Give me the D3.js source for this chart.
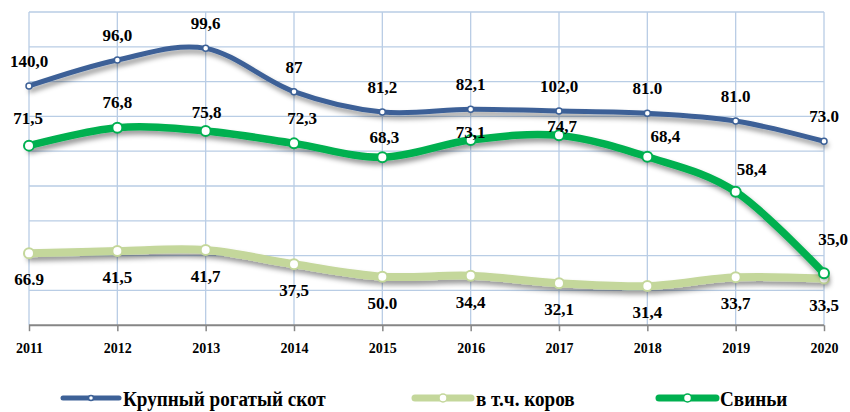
<!DOCTYPE html>
<html>
<head>
<meta charset="utf-8">
<script src="https://cdn.jsdelivr.net/npm/d3@7"></script>
<style>
  html, body { margin: 0; padding: 0; background: #fff; }
  svg { display: block; }
</style>
</head>
<body>
<svg id="chart" width="850" height="412"></svg>
<script>
// ---- Data ----
const years = ["2011","2012","2013","2014","2015","2016","2017","2018","2019","2020"];
// plotted positions
const cattle = [137.5, 152.4, 159.1, 134.2, 122.5, 124.1, 123.1, 121.8, 117.4, 105.7];
const pigs   = [103.2, 113.5, 111.6, 104.5, 96.5, 106.4, 109.1, 96.8, 76.7, 29.8];
const cows   = [41.3, 42.6, 43.2, 35.0, 27.9, 28.4, 24.1, 22.5, 27.5, 26.8];
// data labels as printed
const cattleLabels = ["140,0","96,0","99,6","87","81,2","82,1","102,0","81.0","81.0","73.0"];
const pigsLabels   = ["71,5","76,8","75,8","72,3","68,3","73,1","74,7","68,4","58,4","35,0"];
const cowsLabels   = ["66.9","41,5","41,7","37,5","50.0","34,4","32,1","31,4","33,7","33,5"];
const seriesNames  = ["Крупный рогатый скот","в т.ч. коров","Свиньи"];
const gridTicks = [0,20,40,60,80,100,120,140,160,180];

// ---- Layout ----
const svg = d3.select("#chart");
const x = d3.scalePoint().domain(years).range([29, 824]);
const y = d3.scaleLinear().domain([0, 180]).range([325.2, 12]);
const serif = "'Liberation Serif','Times New Roman',serif";

const defs = svg.append("defs");
const f = defs.append("filter").attr("id","shadow")
  .attr("x","-10%").attr("y","-30%").attr("width","120%").attr("height","180%");
f.append("feDropShadow").attr("dx",2).attr("dy",4).attr("stdDeviation",2.5)
  .attr("flood-color","#000").attr("flood-opacity",0.4);

// gridlines
const grid = svg.append("g");
grid.selectAll("line.h").data(gridTicks.slice(1)).join("line")
  .attr("x1", x.range()[0]).attr("x2", x.range()[1])
  .attr("y1", d => y(d)).attr("y2", d => y(d))
  .attr("stroke", "#B9CDE5").attr("stroke-width", 1.3);
grid.selectAll("line.v").data(years).join("line")
  .attr("x1", d => x(d)).attr("x2", d => x(d))
  .attr("y1", y(180)).attr("y2", y(0))
  .attr("stroke", "#B9CDE5").attr("stroke-width", 1.3);

// x axis
const xAxis = svg.append("g").attr("transform", `translate(0,${y(0)})`)
  .call(d3.axisBottom(x).tickSize(6).tickPadding(12).tickSizeOuter(0));
xAxis.select(".domain").attr("stroke", "#868686").attr("stroke-width", 2)
  .attr("d", `M${x.range()[0]},0H${x.range()[1]}`);
xAxis.selectAll(".tick line").attr("stroke", "#868686").attr("stroke-width", 1.5);
xAxis.selectAll(".tick text").attr("font-family", serif).attr("font-weight", "bold")
  .attr("font-size", 14).attr("fill", "#000");

const curve = d3.curveCardinal.tension(0);
const series = [
  { values: cows,   labels: cowsLabels,   color: "#C4D79B", width: 8, r: 5, sw: 2 },
  { values: pigs,   labels: pigsLabels,   color: "#00B050", width: 7.5, r: 5, sw: 2 },
  { values: cattle, labels: cattleLabels, color: "#3D6197", width: 5, r: 3, sw: 1.5 }
];
const line = d3.line().x((d,i) => x(years[i])).y(d => y(d)).curve(curve);

series.forEach(s => {
  const g = svg.append("g");
  g.append("path").datum(s.values).attr("d", line)
    .attr("fill", "none").attr("stroke", s.color).attr("stroke-width", s.width)
    .attr("stroke-linecap", "round").attr("filter", "url(#shadow)");
  g.selectAll("circle").data(s.values).join("circle")
    .attr("cx", (d,i) => x(years[i])).attr("cy", d => y(d)).attr("r", s.r)
    .attr("fill", "#fff").attr("stroke", s.color).attr("stroke-width", s.sw);
});

// data labels
const labelStyle = sel => sel.attr("font-family", serif).attr("font-weight", "bold")
  .attr("font-size", 17).attr("fill", "#000").attr("text-anchor", "middle");
// label nudges (layout)
const pigsNudge = [[-1,-21.7],[0,-19.7],[1,-13],[8,-19],[2,-14.6],[0,-2],[3,-3.6],[18,-15],[16,-16.7],[9,-28]];
svg.append("g").selectAll("text").data(cattle).join("text").call(labelStyle)
  .attr("x", (d,i) => x(years[i])).attr("y", d => y(d) - 19)
  .text((d,i) => cattleLabels[i]);
svg.append("g").selectAll("text").data(pigs).join("text").call(labelStyle)
  .attr("x", (d,i) => x(years[i]) + pigsNudge[i][0]).attr("y", (d,i) => y(d) + pigsNudge[i][1])
  .text((d,i) => pigsLabels[i]);
svg.append("g").selectAll("text").data(cows).join("text").call(labelStyle)
  .attr("x", (d,i) => x(years[i])).attr("y", d => y(d) + 32)
  .text((d,i) => cowsLabels[i]);

// legend
const legendItems = [
  { name: seriesNames[0], color: "#3D6197", width: 5, r: 2.5, x0: 63, x1: 119, tx: 123 },
  { name: seriesNames[1], color: "#C4D79B", width: 7, r: 4, x0: 415, x1: 471, tx: 476 },
  { name: seriesNames[2], color: "#00B050", width: 7, r: 4, x0: 659, x1: 716, tx: 720 }
];
const lg = svg.append("g");
legendItems.forEach(it => {
  lg.append("line").attr("x1", it.x0).attr("x2", it.x1).attr("y1", 398).attr("y2", 398)
    .attr("stroke", it.color).attr("stroke-width", it.width).attr("stroke-linecap", "round");
  lg.append("circle").attr("cx", (it.x0 + it.x1) / 2).attr("cy", 398).attr("r", it.r)
    .attr("fill", "#fff").attr("stroke", it.color).attr("stroke-width", 1.5);
  lg.append("text").attr("transform", `translate(${it.tx},406) scale(0.87,1)`)
    .attr("font-family", serif).attr("font-weight", "bold").attr("font-size", 22)
    .attr("fill", "#000").text(it.name);
});
</script>
</body>
</html>
